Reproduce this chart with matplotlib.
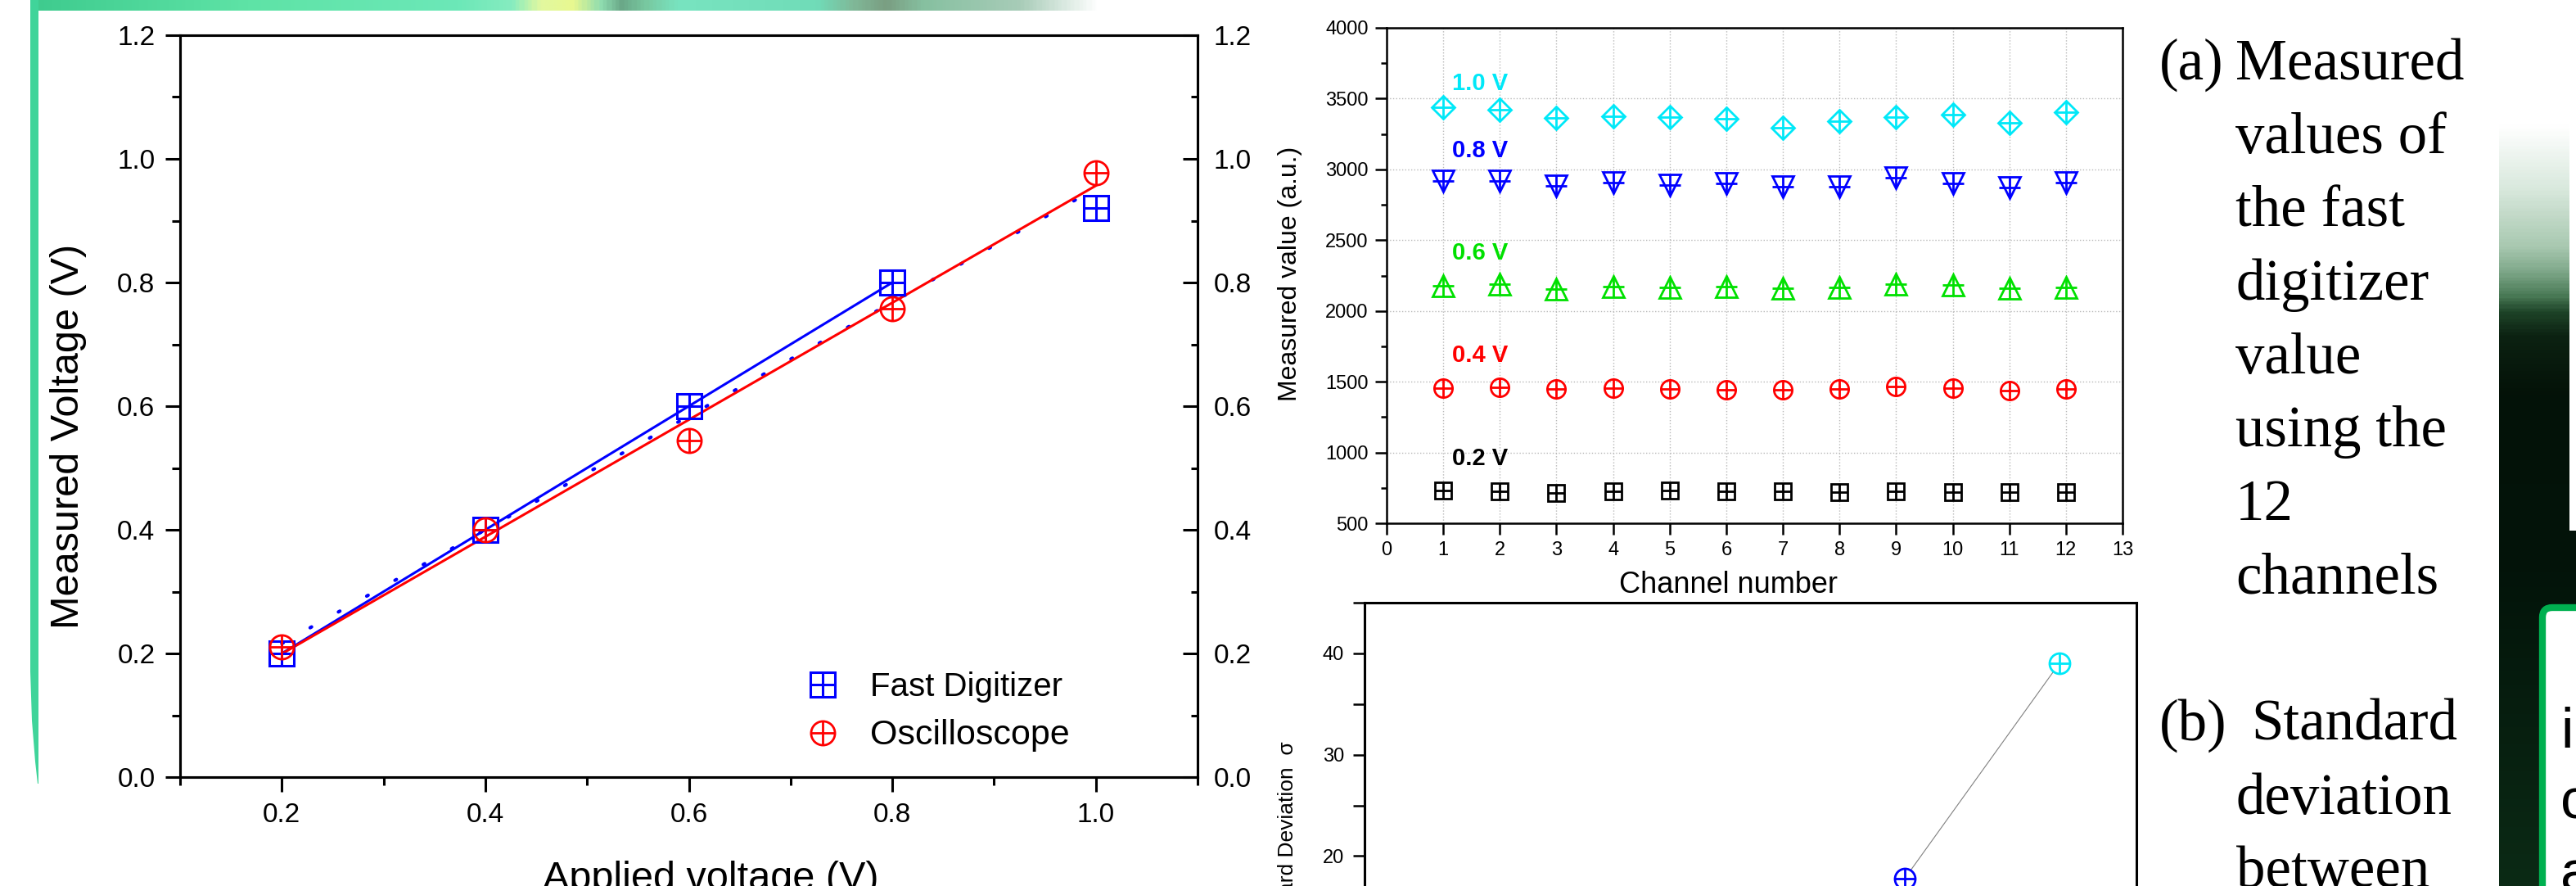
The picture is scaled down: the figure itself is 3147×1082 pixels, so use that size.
import matplotlib.pyplot as plt
import numpy as np
from matplotlib.colors import LinearSegmentedColormap
from matplotlib.legend_handler import HandlerTuple
from matplotlib.patches import Rectangle, Polygon, FancyBboxPatch
from matplotlib.ticker import MultipleLocator

plt.rcParams['font.family'] = ['Liberation Sans', 'DejaVu Sans']

W, H = 3147, 1082

# (a) linearity: digitizer / oscilloscope vs applied voltage
applied_v   = [0.2, 0.4, 0.6, 0.8, 1.0]
digitizer_v = [0.20, 0.40, 0.60, 0.80, 0.92]
scope_v     = [0.21, 0.40, 0.545, 0.757, 0.978]

# measured value per channel for each input level
channels    = list(range(1, 13))
level_names = ['1.0 V', '0.8 V', '0.6 V', '0.4 V', '0.2 V']
ch_1v0 = [3437, 3420, 3363, 3377, 3371, 3355, 3295, 3338, 3371, 3385, 3330, 3404]
ch_0v8 = [2920, 2920, 2884, 2906, 2890, 2898, 2879, 2879, 2939, 2898, 2871, 2906]
ch_0v6 = [2179, 2187, 2154, 2174, 2168, 2174, 2160, 2165, 2187, 2182, 2160, 2165]
ch_0v4 = [1455, 1463, 1449, 1457, 1449, 1441, 1441, 1446, 1468, 1455, 1435, 1446]
ch_0v2 = [733, 725, 716, 725, 730, 725, 725, 722, 725, 719, 719, 719]

# standard deviation between channels (only the visible part)
std_voltage = [0.8, 1.0]
std_sigma   = [17.8, 39.0]
std_colors  = ['blue', '#00e8f8']

text_a = ['Measured', 'values of', 'the fast', 'digitizer', 'value', 'using the', '12', 'channels']
text_b = ['Standard', 'deviation', 'between']


def frac(x0, y0, x1, y1):
    return [x0 / W, 1 - y1 / H, (x1 - x0) / W, (y1 - y0) / H]


fig = plt.figure(figsize=(W / 100, H / 100), dpi=100)

# ---- slide decoration, pixel coordinates ----
bg = fig.add_axes([0, 0, 1, 1])
bg.axis('off')

bar_stops = [(37, '#3ecb8e'), (300, '#5ee3a6'), (560, '#6ce8b8'), (625, '#86ecc0'),
             (660, '#e2f8a0'), (700, '#e8f890'), (735, '#8edcb0'), (760, '#6aa888'),
             (790, '#78c8a0'), (830, '#78e4c0'), (1000, '#70dcb8'), (1045, '#80b898'),
             (1085, '#7a9e82'), (1130, '#86c0a0'), (1250, '#a8ccb8'), (1345, '#ffffff')]
pos = [(x - 37) / (1345 - 37) for x, _ in bar_stops]
bar_cmap = LinearSegmentedColormap.from_list('bar', list(zip(pos, [c for _, c in bar_stops])))
bg.imshow(np.linspace(0, 1, 600)[None, :], extent=(37, 1345, 12.7, 0), aspect='auto', cmap=bar_cmap)

bg.add_patch(Polygon([(37, 0), (37, 820), (39, 880), (43, 930), (46, 957), (47, 957), (47, 0)],
                     closed=True, fc='#40d49a', ec='none'))

dark_stops = [(0, '#ffffff'), (152, '#ffffff'), (230, '#d8e8dc'), (300, '#a8c8b0'),
              (330, '#7fa88a'), (360, '#4a7a56'), (380, '#1e4428'), (410, '#0c2212'),
              (480, '#041208'), (700, '#03140a'), (1082, '#0b2a15')]
dpos = [y / 1082 for y, _ in dark_stops]
dark_cmap = LinearSegmentedColormap.from_list('dark', list(zip(dpos, [c for _, c in dark_stops])))
bg.imshow(np.linspace(0, 1, 600)[:, None], extent=(3053, 3147, 1082, 0), aspect='auto', cmap=dark_cmap)
bg.add_patch(Rectangle((3139, 0), 8, 648, fc='white', ec='none'))
bg.add_patch(FancyBboxPatch((3106, 742), 200, 500, boxstyle='round,pad=0,rounding_size=12',
                            fc='white', ec='#00b050', lw=6))
for s, yb in zip(['i', 'c', 'a'], [913, 1000, 1088]):
    bg.text(3128, yb, s, fontsize=50, va='baseline', color='black')

serif = ['Liberation Serif', 'DejaVu Serif']
bg.text(2638, 97, '(a)', fontsize=51, family=serif, va='baseline')
for i, s in enumerate(text_a):
    bg.text(2731, 97 + i * 89.7, s, fontsize=51, family=serif, va='baseline')
bg.text(2638, 904, '(b)', fontsize=51, family=serif, va='baseline')
for i, s in enumerate(text_b):
    bg.text(2750 if i == 0 else 2732, 904 + i * 89.7, s, fontsize=51, family=serif, va='baseline')

bg.set_xlim(0, W)
bg.set_ylim(H, 0)

# ---- left panel ----
ax1 = fig.add_axes(frac(220, 43, 1463, 949))
xv = np.array(applied_v)
k, b = np.polyfit(xv, digitizer_v, 1)
ax1.plot(xv, k * xv + b, color='blue', lw=3, ls=(0, (0.5, 9)), dash_capstyle='round')
k4, b4 = np.polyfit(xv[:4], digitizer_v[:4], 1)
ax1.plot(xv[:4], k4 * xv[:4] + b4, color='blue', lw=2.2)
ks, bs = np.polyfit(xv, scope_v, 1)
ax1.plot(xv, ks * xv + bs, color='red', lw=2.2)

sq, = ax1.plot(applied_v, digitizer_v, ls='none', marker='s', ms=22, mfc='none', mec='blue', mew=2.2)
sqp, = ax1.plot(applied_v, digitizer_v, ls='none', marker='+', ms=22, mec='blue', mew=2.2)
ci, = ax1.plot(applied_v, scope_v, ls='none', marker='o', ms=21, mfc='none', mec='red', mew=2)
cip, = ax1.plot(applied_v, scope_v, ls='none', marker='+', ms=21, mec='red', mew=2)

ax1.set_xlim(0.1, 1.1)
ax1.set_ylim(0, 1.2)
ax1.xaxis.set_minor_locator(MultipleLocator(0.1))
ax1.yaxis.set_major_locator(MultipleLocator(0.2))
ax1.yaxis.set_minor_locator(MultipleLocator(0.1))
ax1.xaxis.set_major_formatter(lambda v, p: f'{v:.1f}')
ax1.yaxis.set_major_formatter(lambda v, p: f'{v:.1f}')
ax1.set_xticks([0.2, 0.4, 0.6, 0.8, 1.0])
ax1.tick_params(which='both', direction='out', top=False, right=False, width=2.2, labelsize=24)
ax1.tick_params(which='major', length=13, pad=9)
ax1.tick_params(which='minor', length=7)
for sp in ax1.spines.values():
    sp.set_linewidth(2.2)

axr = ax1.twinx()
axr.set_ylim(0, 1.2)
axr.yaxis.set_major_locator(MultipleLocator(0.2))
axr.yaxis.set_minor_locator(MultipleLocator(0.1))
axr.yaxis.set_major_formatter(lambda v, p: f'{v:.1f}')
axr.tick_params(which='both', direction='in', width=2.2, labelsize=24, pad=14)
axr.tick_params(which='major', length=13)
axr.tick_params(which='minor', length=6)
for sp in axr.spines.values():
    sp.set_linewidth(2.2)

leg = ax1.legend([(sq, sqp), (ci, cip)], ['Fast Digitizer', 'Oscilloscope'],
                 handler_map={tuple: HandlerTuple(ndivide=1)}, frameon=False,
                 loc='upper left', bbox_to_anchor=(0.615, 0.142), fontsize=29,
                 handlelength=1.0, handletextpad=0.95, labelspacing=0.5,
                 borderpad=0, borderaxespad=0)
leg.get_texts()[1].set_fontsize(31)

fig.text(84 / W, 1 - 533 / H, 'Measured Voltage (V)', rotation=90, fontsize=35,
         ha='center', va='center')
fig.text(868 / W, 1 - 1086 / H, 'Applied voltage (V)', fontsize=35, ha='center', va='baseline')

# ---- middle panel: per channel ----
ax2 = fig.add_axes(frac(1694, 34, 2593, 639))
series = [(ch_1v0, '#00e8f8', 'D', 14, 20),
          (ch_0v8, 'blue', 'v', 19, 19),
          (ch_0v6, '#00e000', '^', 19, 19),
          (ch_0v4, 'red', 'o', 16, 16),
          (ch_0v2, 'black', 's', 14, 14)]
for (vals, col, mk, ms, ps), name in zip(series, level_names):
    ax2.plot(channels, vals, ls='none', marker=mk, ms=ms, mfc='none', mec=col, mew=2)
    ax2.plot(channels, vals, ls='none', marker='+', ms=ps, mec=col, mew=2)
    ax2.text(1.15, np.mean(vals) + 235, name, color=col, fontsize=21, fontweight='bold', va='center')

ax2.set_xlim(0, 13)
ax2.set_ylim(500, 4000)
ax2.set_xticks(range(0, 14))
ax2.yaxis.set_major_locator(MultipleLocator(500))
ax2.yaxis.set_minor_locator(MultipleLocator(250))
ax2.grid(True, which='major', ls=':', color='#b8b8b8', lw=1)
ax2.tick_params(which='both', direction='out', top=False, right=False, width=1.8, labelsize=17)
ax2.tick_params(which='major', length=10, pad=6)
ax2.tick_params(which='minor', length=5)
for sp in ax2.spines.values():
    sp.set_linewidth(1.8)
fig.text(1576 / W, 1 - 334 / H, 'Measured value (a.u.)', rotation=90, fontsize=23,
         ha='center', va='center')
fig.text(2111 / W, 1 - 714 / H, 'Channel number', fontsize=26, ha='center', va='center')

# ---- bottom panel: standard deviation ----
ax3 = fig.add_axes(frac(1667, 736, 2610, 1293))
ax3.plot(std_voltage, std_sigma, color='#808080', lw=0.8, zorder=1)
for xv_, yv_, col in zip(std_voltage, std_sigma, std_colors):
    ax3.plot(xv_, yv_, ls='none', marker='o', ms=18, mfc='white', mec=col, mew=2, zorder=2)
    ax3.plot(xv_, yv_, ls='none', marker='+', ms=18, mec=col, mew=2, zorder=3)
ax3.set_xlim(0.1, 1.1)
ax3.set_ylim(0, 45)
ax3.yaxis.set_major_locator(MultipleLocator(10))
ax3.yaxis.set_minor_locator(MultipleLocator(5))
ax3.tick_params(which='both', direction='out', top=False, right=False, width=1.8, labelsize=17)
ax3.tick_params(which='major', length=10, pad=8)
ax3.tick_params(which='minor', length=10)
for sp in ax3.spines.values():
    sp.set_linewidth(2.2)
fig.text(1573 / W, 1 - 905 / H, 'Standard Deviation  σ', rotation=90, fontsize=19,
         ha='center', va='top')

fig.savefig('out.png', dpi=100, facecolor='white')
